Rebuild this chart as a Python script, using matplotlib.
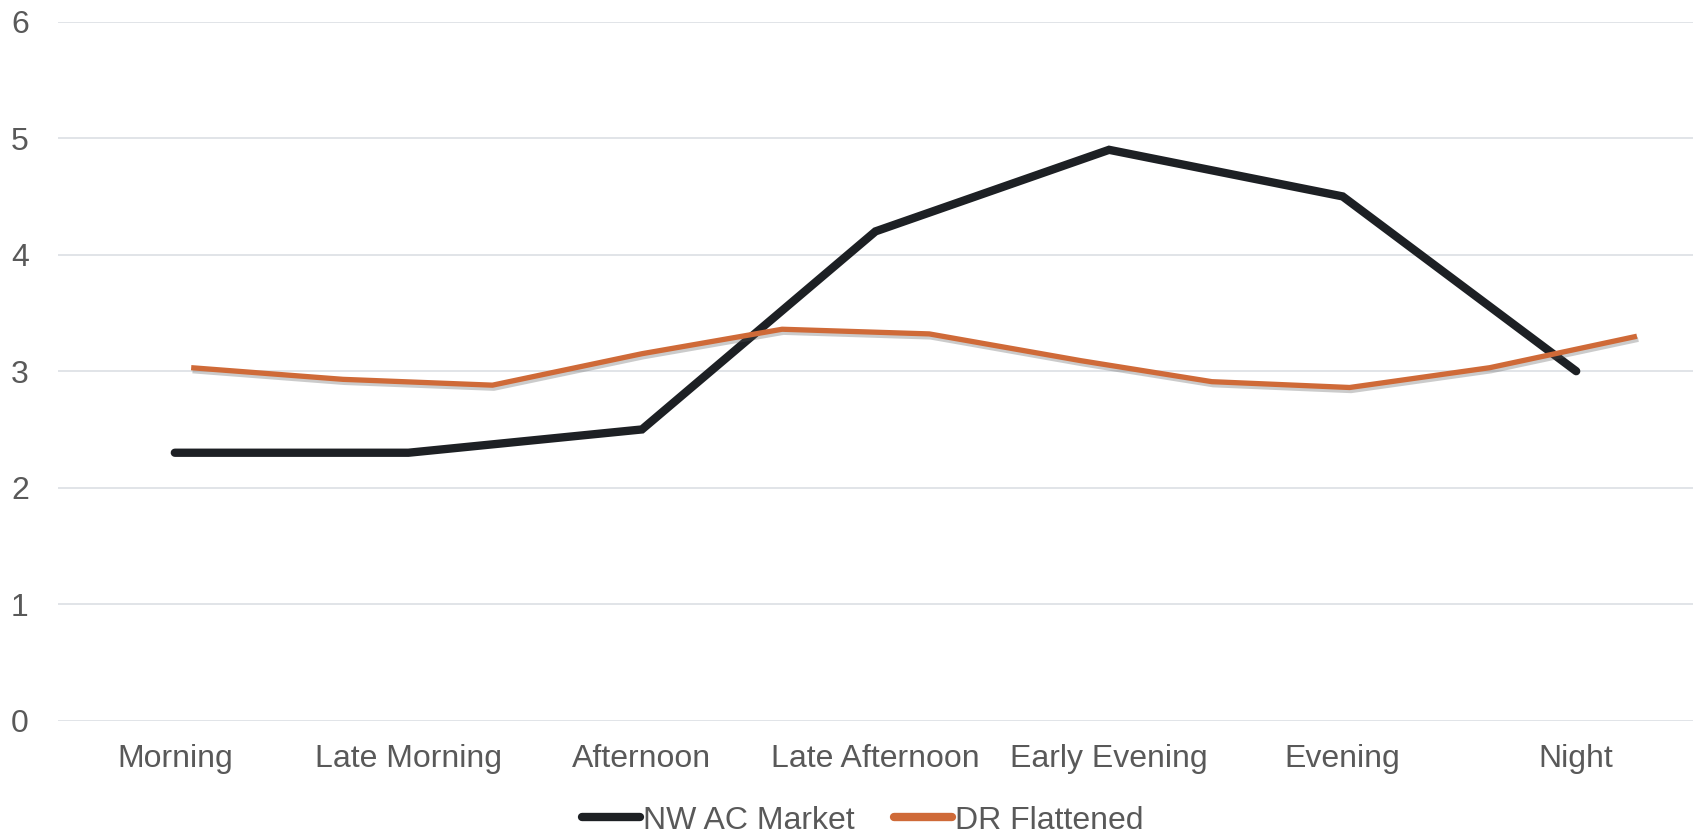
import matplotlib
matplotlib.use('Agg')
import matplotlib.pyplot as plt
import matplotlib.patheffects as pe

# categories along the x axis
periods = ["Morning", "Late Morning", "Afternoon", "Late Afternoon",
           "Early Evening", "Evening", "Night"]

# black series, one value per period
nw_ac_market = [2.3, 2.3, 2.5, 4.2, 4.9, 4.5, 3.0]

# orange series sits on its own (finer) positions, in category units
dr_positions = [0.07, 0.72, 1.36, 2.0, 2.60, 3.23, 3.88, 4.44, 5.03, 5.63, 6.26]
dr_flattened = [3.03, 2.93, 2.88, 3.15, 3.36, 3.32, 3.09, 2.91, 2.86, 3.03, 3.30]

y_ticks = [0, 1, 2, 3, 4, 5, 6]

text_grey = "#595959"
plt.rcParams['font.family'] = ['Liberation Sans', 'DejaVu Sans']

fig = plt.figure(figsize=(17.02, 8.33), dpi=100)
ax = fig.add_axes([0.0341, 0.1348, 0.9606, 0.8392])

x = list(range(len(periods)))
ax.plot(x, nw_ac_market, color="#1d2024", lw=6.0, solid_capstyle="round",
        solid_joinstyle="miter", label="NW AC Market", zorder=3)
ax.plot(dr_positions, dr_flattened, color="#cf6a38", lw=3.8,
        solid_capstyle="butt", label="DR Flattened", zorder=4,
        path_effects=[pe.SimpleLineShadow(offset=(1.0, -2.2), alpha=0.3, shadow_color="#555555"),
                      pe.Normal()])

ax.set_xlim(-0.5, len(periods) - 0.5)
ax.set_ylim(0, 6)
ax.set_xticks(x)
ax.set_xticklabels(periods)
ax.set_yticks(y_ticks)

ax.grid(axis="y", color="#dcdfe4", lw=1.2)
ax.set_axisbelow(True)
for s in ax.spines.values():
    s.set_visible(False)
ax.tick_params(axis="both", length=0, labelsize=23, labelcolor=text_grey)
ax.tick_params(axis="x", pad=17)
ax.tick_params(axis="y", pad=21)

leg = fig.legend(loc="center", bbox_to_anchor=(0.507, 0.015), ncol=2, frameon=False,
                 fontsize=23, handlelength=1.8, handletextpad=0.1, columnspacing=1.25)
for t in leg.get_texts():
    t.set_color(text_grey)
for h in leg.legend_handles:
    h.set_linewidth(6)
    h.set_solid_capstyle("round")
    h.set_path_effects([])

fig.savefig("out.png", dpi=100)
